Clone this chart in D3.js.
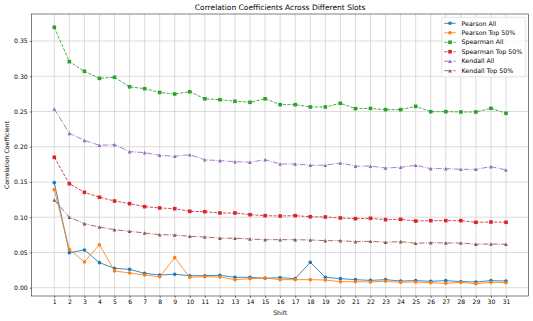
<!DOCTYPE html>
<html><head><meta charset="utf-8">
<script src="https://cdn.jsdelivr.net/npm/d3@7"></script>
<style>body{margin:0;background:#fff}svg{display:block}text{font-family:"DejaVu Sans",sans-serif}</style>
</head><body><svg id="c" width="533" height="321"></svg>
<script>
const shifts = d3.range(1, 32);
const pearsonAll = [0.149,0.0497,0.0535,0.0355,0.0275,0.026,0.0204,0.018,0.019,0.017,0.017,0.0176,0.0147,0.0147,0.0133,0.0142,0.0128,0.036,0.0147,0.0128,0.0114,0.0103,0.0114,0.0095,0.01,0.0091,0.01,0.0086,0.0081,0.01,0.0095];
const pearsonTop = [0.139,0.0545,0.0365,0.061,0.0237,0.0209,0.018,0.0156,0.0426,0.0147,0.0156,0.0152,0.0114,0.0128,0.0138,0.0114,0.0114,0.0114,0.0109,0.0085,0.0085,0.0081,0.0091,0.0076,0.0081,0.0071,0.0062,0.0076,0.0057,0.0076,0.0071];
const spearmanAll = [0.3695,0.3207,0.307,0.297,0.2985,0.285,0.2824,0.277,0.2748,0.278,0.268,0.2667,0.2645,0.263,0.268,0.2597,0.2597,0.2564,0.2564,0.2616,0.254,0.2543,0.2526,0.2526,0.2573,0.2497,0.2497,0.2493,0.2493,0.2545,0.2474];
const spearmanTop = [0.185,0.1476,0.1353,0.1283,0.123,0.1192,0.115,0.1131,0.1121,0.1084,0.1078,0.106,0.106,0.1036,0.1022,0.1017,0.1022,0.1007,0.1003,0.0989,0.0979,0.0984,0.0965,0.097,0.0946,0.0951,0.0951,0.0951,0.0928,0.0932,0.0928];
const kendallAll = [0.2535,0.219,0.209,0.202,0.203,0.193,0.1916,0.1878,0.1864,0.1887,0.1815,0.1802,0.1788,0.1779,0.1816,0.1755,0.1755,0.1737,0.1737,0.1769,0.1725,0.1725,0.1698,0.1708,0.1737,0.1689,0.1689,0.168,0.168,0.1717,0.167];
const kendallTop = [0.1244,0.0999,0.0908,0.0861,0.0823,0.08,0.0776,0.0752,0.0748,0.0729,0.0719,0.0703,0.0701,0.0691,0.0681,0.0681,0.0681,0.0677,0.0667,0.0667,0.0653,0.0658,0.0644,0.0653,0.063,0.0638,0.0634,0.0634,0.0616,0.062,0.0616];
const yTicks = [0,0.05,0.1,0.15,0.2,0.25,0.3,0.35];
const seriesNames = ["Pearson All","Pearson Top 50%","Spearman All","Spearman Top 50%","Kendall All","Kendall Top 50%"];
const seriesValues = [pearsonAll,pearsonTop,spearmanAll,spearmanTop,kendallAll,kendallTop];
const colors = ["#1f77b4","#ff7f0e","#2ca02c","#d62728","#9467bd","#8c564b"];
const markers = ["circle","circle","square","square","triangle","triangle"];
const dashes = [null,null,"3.2,1.4","3.2,1.4","5.5,1.4,0.85,1.4","5.5,1.4,0.85,1.4"];

const svg = d3.select("#c");
const L=31.7,R=528.6,T=14,B=296;
const x = d3.scaleLinear().domain([-0.5,32.5]).range([L,R]);
const y = d3.scaleLinear().domain([-0.0118,0.3883]).range([B,T]);
const fs = 6.1;

// grid
const g = svg.append("g");
g.selectAll(".gx").data(shifts).join("line").attr("x1",d=>x(d)).attr("x2",d=>x(d)).attr("y1",T).attr("y2",B).attr("stroke","#d3d3d3").attr("stroke-width",0.8);
g.selectAll(".gy").data(yTicks).join("line").attr("y1",d=>y(d)).attr("y2",d=>y(d)).attr("x1",L).attr("x2",R).attr("stroke","#d3d3d3").attr("stroke-width",0.8);

// axes
const xa = svg.append("g").attr("transform",`translate(0,${B})`).call(d3.axisBottom(x).tickValues(shifts).tickFormat(d3.format("d")).tickSize(2).tickPadding(2));
const ya = svg.append("g").attr("transform",`translate(${L},0)`).call(d3.axisLeft(y).tickValues(yTicks).tickFormat(d3.format(".2f")).tickSize(2).tickPadding(2));
[xa,ya].forEach(a=>{a.select(".domain").remove();a.selectAll("text").attr("font-size",fs).attr("font-family","DejaVu Sans").attr("fill","#000");a.selectAll("line").attr("stroke","#000").attr("stroke-width",0.5);});

function markerPath(type){
  const s=3.6;
  if(type==="circle") return d3.symbol(d3.symbolCircle, Math.PI*(s/2)*(s/2))();
  if(type==="square") return `M${-s/2},${-s/2}h${s}v${s}h${-s}Z`;
  return `M0,${-s/2}L${s/2},${s/2}L${-s/2},${s/2}Z`;
}
const line = d3.line().x((d,i)=>x(shifts[i])).y(d=>y(d));
seriesValues.forEach((vals,k)=>{
  const sg = svg.append("g");
  sg.append("path").attr("d",line(vals)).attr("fill","none").attr("stroke",colors[k]).attr("stroke-width",0.85).attr("stroke-dasharray",dashes[k]);
  sg.selectAll("path.m").data(vals).join("path").attr("class","m").attr("d",markerPath(markers[k])).attr("transform",(d,i)=>`translate(${x(shifts[i])},${y(d)})`).attr("fill",colors[k]);
});

// spines
svg.append("rect").attr("x",L).attr("y",T).attr("width",R-L).attr("height",B-T).attr("fill","none").attr("stroke","#000").attr("stroke-width",0.5);

// title & labels
svg.append("text").attr("x",(L+R)/2).attr("y",10.3).attr("text-anchor","middle").attr("font-size",7.5).text("Correlation Coefficients Across Different Slots");
svg.append("text").attr("x",(L+R)/2).attr("y",315).attr("text-anchor","middle").attr("font-size",fs).text("Shift");
svg.append("text").attr("transform",`translate(9,${(T+B)/2}) rotate(-90)`).attr("text-anchor","middle").attr("font-size",fs).text("Correlation Coefficient");

// legend
const lg = svg.append("g");
lg.append("rect").attr("x",441.7).attr("y",17.3).attr("width",83.6).attr("height",59.6).attr("rx",1.2).attr("fill","#fff").attr("fill-opacity",0.8).attr("stroke","#cccccc").attr("stroke-width",0.5);
seriesNames.forEach((n,k)=>{
  const yy = 23.3 + k*9.48;
  lg.append("line").attr("x1",444.3).attr("x2",455.7).attr("y1",yy).attr("y2",yy).attr("stroke",colors[k]).attr("stroke-width",0.85).attr("stroke-dasharray",dashes[k]);
  lg.append("path").attr("d",markerPath(markers[k])).attr("transform",`translate(450,${yy})`).attr("fill",colors[k]);
  lg.append("text").attr("x",461.5).attr("y",yy).attr("dy","0.35em").attr("font-size",6.3).text(n);
});
</script></body></html>
